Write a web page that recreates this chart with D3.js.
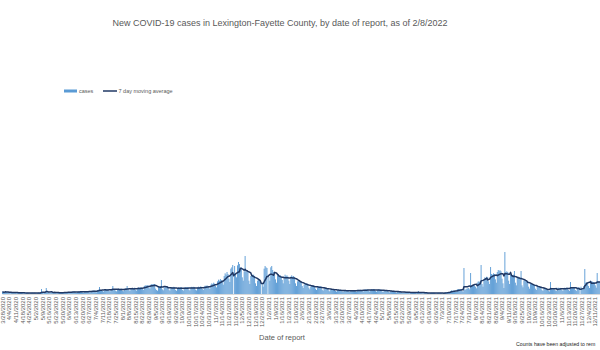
<!DOCTYPE html>
<html><head><meta charset="utf-8">
<script src="https://cdn.jsdelivr.net/npm/d3@7"></script>
<style>
html,body{margin:0;padding:0;background:#fff;}
svg{display:block;font-family:"Liberation Sans",Arial,sans-serif;}
</style></head>
<body><svg id="chart" width="600" height="350"></svg>
<script>
// ---- data ----
const titleText = "New COVID-19 cases in Lexington-Fayette County, by date of report, as of 2/8/2022";
const seriesNames = ["cases", "7 day moving average"];
const firstDate = "2020-03-28";
const lastAxisDate = "2022-02-08";
// daily new cases, week by week (Sat..Fri) starting 3/28/2020
const dailyCases = [
35,20,28,45,30,25,27, 18,12,20,30,25,22,26, 15,10,18,26,22,24,20, 12,8,14,18,16,20,17,
10,7,15,19,18,16,20, 12,8,14,20,17,22,75, 15,10,20,28,90,30,25, 18,12,22,30,28,32,30,
14,10,12,24,22,26,25, 18,12,26,30,28,30,32, 22,15,30,36,34,35,38, 24,16,32,38,36,40,38,
26,18,34,42,40,44,42, 30,20,42,50,48,52,50, 28,25,60,65,105,62,60, 45,35,66,75,70,72,70,
48,38,70,78,120,70,72, 50,40,72,80,76,78,80, 52,42,76,85,80,120,82, 58,45,80,92,88,90,95,
60,50,90,100,95,100,98, 75,60,120,130,125,135,130, 95,80,140,150,145,150,148, 80,60,50,120,115,120,210,
70,55,100,110,105,112,110, 65,50,95,105,100,108,105, 60,48,90,100,95,100,102, 62,50,92,105,98,105,104,
64,52,95,108,100,108,105, 66,54,98,110,102,112,108, 75,60,110,125,120,130,115, 95,75,140,160,150,170,155,
120,100,190,215,200,225,210, 180,140,270,310,290,330,300, 230,180,380,400,435,0,420, 300,250,430,480,450,380,400,
250,200,340,570,330,350,340, 200,150,270,300,280,290,270, 160,120,200,230,220,180,0, 150,110,380,420,400,390,0,
260,200,400,420,360,330,300, 220,170,280,300,270,280,260, 210,160,230,290,270,280,260, 200,150,260,280,260,270,250,
160,120,190,210,200,195,185, 120,90,140,160,155,160,150, 95,70,110,135,125,130,120, 80,60,100,115,110,115,110,
65,50,80,95,90,90,88, 55,40,65,75,72,75,70, 45,35,55,65,60,62,60, 40,30,50,58,55,60,55,
40,30,52,58,56,58,54, 42,32,56,62,60,64,60, 45,35,60,70,66,70,66, 48,36,62,72,68,74,70,
44,34,58,68,64,68,64, 38,30,50,58,56,60,56, 30,24,40,46,45,48,44, 25,18,32,38,36,38,35,
20,15,26,30,30,32,29, 16,12,14,28,26,28,26, 15,11,20,45,22,24,22, 12,9,17,20,19,21,20,
11,8,15,18,17,18,17, 10,7,14,17,16,17,16, 10,8,5,25,26,28,30, 25,18,45,55,50,52,50,
40,30,70,75,70,72,75, 45,35,390,70,65,80,85, 90,70,315,130,120,135,130, 110,85,170,190,180,195,435,
150,110,220,250,240,260,250, 190,150,405,300,290,310,300, 220,170,330,360,350,355,340, 230,160,90,630,330,340,330,
200,150,290,300,280,290,345, 170,130,240,260,250,240,345, 130,100,200,210,200,195,190, 110,80,150,160,150,145,140,
80,60,110,120,115,110,105, 60,45,80,85,75,70,70, 50,40,180,75,70,72,70, 55,45,85,95,90,92,90,
60,45,90,95,90,95,92, 60,48,180,95,92,96,90, 60,45,95,100,98,0,110, 90,70,120,375,170,175,170,
120,90,200,190,185,180,175, 130,95,315,190,185,180,175
];
const yDomainMax = 3000;

// ---- build ----
const W = 600;
const parse = d3.timeParse("%Y-%m-%d");
const fmt = d3.timeFormat("%-m/%-d/%Y");
const start = parse(firstDate);
const axisDates = d3.timeDay.range(start, d3.timeDay.offset(parse(lastAxisDate), 1));
const data = dailyCases.map((v, i) => ({date: axisDates[i], key: fmt(axisDates[i]), value: v}));
const ma = data.map((d, i) => {
  const w = dailyCases.slice(Math.max(0, i - 6), i + 1);
  return {key: d.key, value: d3.mean(w)};
});

const svg = d3.select("#chart");
const x = d3.scaleBand().domain(axisDates.map(fmt)).range([2.0, 2.0 + 0.9515 * axisDates.length]).paddingInner(0.03).paddingOuter(0);
const y = d3.scaleLinear().domain([0, yDomainMax]).range([294, 94]);
// weekly tick labels (only those that fit inside the visible picture)
const tickLabels = axisDates.filter((d, i) => i % 7 === 0).map(fmt)
  .filter(k => x(k) + x.bandwidth() / 2 + 3 < W);

svg.append("text").attr("x", 280).attr("y", 26).attr("text-anchor", "middle")
  .attr("font-size", 9).attr("fill", "#595959").text(titleText);

// legend
const lg = svg.append("g");
lg.append("rect").attr("x", 64).attr("y", 89.5).attr("width", 13).attr("height", 3).attr("fill", "#5B9BD5");
lg.append("text").attr("x", 79).attr("y", 93).attr("font-size", 5.5).attr("fill", "#595959").text(seriesNames[0]);
lg.append("line").attr("x1", 103).attr("x2", 117).attr("y1", 91).attr("y2", 91).attr("stroke", "#203864").attr("stroke-width", 1.5);
lg.append("text").attr("x", 118.5).attr("y", 93).attr("font-size", 5.5).attr("fill", "#595959").text(seriesNames[1]);

// bars
svg.append("g").selectAll("rect").data(data).join("rect")
  .attr("x", d => x(d.key)).attr("width", x.bandwidth())
  .attr("y", d => y(d.value)).attr("height", d => y(0) - y(d.value))
  .attr("fill", "#5B9BD5");

// axis
const xAxis = d3.axisBottom(x).tickValues(tickLabels).tickSize(0).tickPadding(3);
const ax = svg.append("g").attr("transform", `translate(0,${y(0)})`).call(xAxis);
ax.select(".domain").attr("stroke", "#D9D9D9");
ax.selectAll("text").attr("font-size", 6).attr("fill", "#595959")
  .attr("font-family", '"Liberation Sans",Arial,sans-serif')
  .attr("transform", "rotate(-90)").attr("text-anchor", "end")
  .attr("x", -3).attr("y", 0).attr("dy", "0.35em");

// moving average line
const line = d3.line().x(d => x(d.key) + x.bandwidth() / 2).y(d => y(d.value));
svg.append("path").datum(ma).attr("d", line).attr("fill", "none")
  .attr("stroke", "#203864").attr("stroke-width", 1.5).attr("stroke-linejoin", "round");

svg.append("text").attr("x", 282).attr("y", 340).attr("text-anchor", "middle")
  .attr("font-size", 7.5).attr("fill", "#595959").text("Date of report");
svg.append("text").attr("x", 516).attr("y", 346).attr("font-size", 5.2).attr("fill", "#222")
  .text("Counts have been adjusted to rem");
</script></body></html>
